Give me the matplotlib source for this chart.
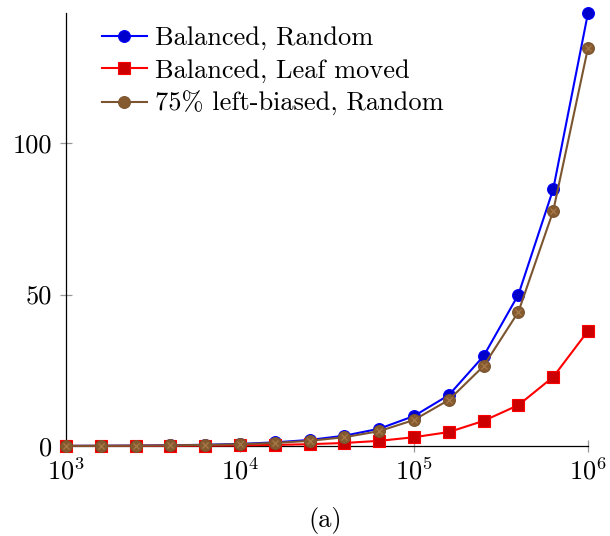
import matplotlib
matplotlib.use("Agg")
import matplotlib.pyplot as plt
import numpy as np

plt.rcParams['font.family'] = ['cmr10', 'DejaVu Serif']
plt.rcParams['mathtext.fontset'] = 'cm'
plt.rcParams['axes.formatter.use_mathtext'] = True

# data
exponents = [3.0, 3.2, 3.4, 3.6, 3.8, 4.0, 4.2, 4.4, 4.6, 4.8, 5.0, 5.2, 5.4, 5.6, 5.8, 6.0]
x_values = [10 ** e for e in exponents]
balanced_random = [0.05, 0.08, 0.14, 0.24, 0.41, 0.69, 1.2, 2.0, 3.4, 5.7, 9.9, 16.8, 29.7, 50.0, 84.8, 143.0]
balanced_leaf = [0.01, 0.02, 0.04, 0.07, 0.12, 0.2, 0.35, 0.6, 1.0, 1.7, 2.9, 4.6, 8.3, 13.5, 22.8, 38.0]
biased_random = [0.04, 0.07, 0.12, 0.2, 0.35, 0.6, 1.0, 1.7, 2.9, 4.9, 8.6, 15.2, 26.4, 44.3, 77.6, 131.5]
labels = ["Balanced, Random", "Balanced, Leaf moved", "75% left-biased, Random"]
y_ticks = [0, 50, 100]

fig = plt.figure(figsize=(6.10, 5.36), dpi=100)
ax = fig.add_axes([66 / 610, 1 - 446 / 536, (588 - 66) / 610, (446 - 13) / 536])

ax.plot(x_values, balanced_random, color='#0000ff', lw=1.5, marker='o', ms=8.5,
        mfc='#0000cc', mec='#0000ff', mew=0.8, label=labels[0], zorder=3, clip_on=False)
ax.plot(x_values, balanced_leaf, color='#ff0000', lw=1.5, marker='s', ms=8,
        mfc='#cc0000', mec='#ff0000', mew=0.8, label=labels[1], zorder=3, clip_on=False)
ax.plot(x_values, biased_random, color='#7b5530', lw=1.5, marker='o', ms=8.5,
        mfc='#855a2f', mec='#7b5530', mew=0.8, label=labels[2], zorder=4, clip_on=False)
ax.plot(x_values, biased_random, lw=0, marker='x', ms=4.5, mec='#a87a4a', mew=0.9,
        zorder=5, clip_on=False)

ax.set_xscale('log')
ax.set_xlim(x_values[0], x_values[-1])
ax.set_ylim(0, max(balanced_random))
ax.set_xticks([1e3, 1e4, 1e5, 1e6])
ax.xaxis.set_minor_locator(matplotlib.ticker.NullLocator())
ax.set_yticks(y_ticks)
ax.set_yticklabels([str(t) for t in y_ticks])

for s in ['top', 'right']:
    ax.spines[s].set_visible(False)
for s in ['left', 'bottom']:
    ax.spines[s].set_linewidth(0.9)
    ax.spines[s].set_color('black')
    ax.spines[s].set_zorder(2)
ax.tick_params(axis='both', which='major', direction='inout', length=8, width=0.9,
               color='#999999', labelsize=19)
ax.tick_params(axis='y', pad=6)
ax.tick_params(axis='x', pad=4)

leg = ax.legend(loc='upper left', bbox_to_anchor=(36 / 522, 0.969), frameon=False,
                fontsize=19, handlelength=1.7, handletextpad=0.3, labelspacing=0.32,
                borderaxespad=0, borderpad=0)

fig.text(325 / 610, 1 - 521 / 536, '(a)', ha='center', va='center', fontsize=19)

fig.savefig('out.png', dpi=100)
